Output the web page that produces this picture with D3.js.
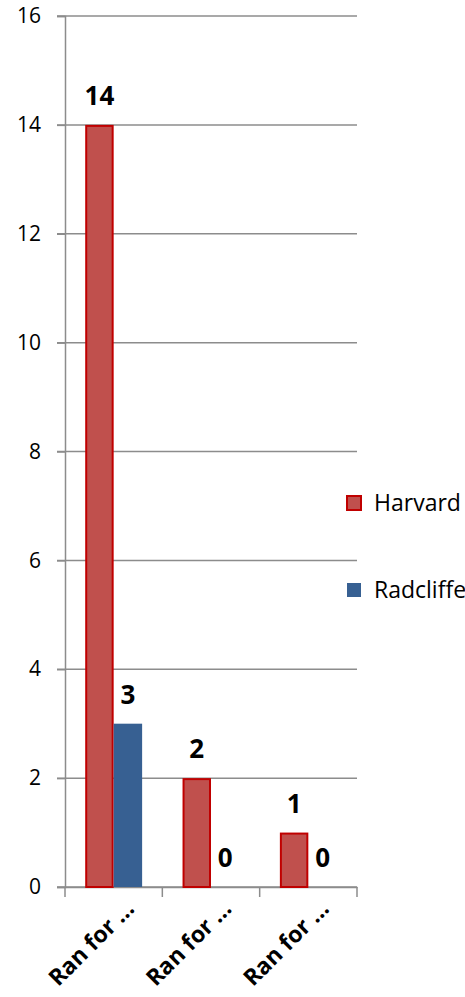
<!DOCTYPE html>
<html><head><meta charset="utf-8">
<script src="https://cdn.jsdelivr.net/npm/d3@7"></script>
<style>body{margin:0;background:#fff;overflow:hidden}svg{display:block}</style>
</head><body>
<script>
const categories = ["Ran for …", "Ran for …", "Ran for …"];
const seriesNames = ["Harvard", "Radcliffe"];
const harvard = [14, 2, 1];
const radcliffe = [3, 0, 0];
const yTicks = [0, 2, 4, 6, 8, 10, 12, 14, 16];

const W = 465, H = 997;
const fills = {Harvard: "#C0504D", Radcliffe: "#376092"};
const strokes = {Harvard: "#C00000", Radcliffe: "none"};
const font = "'Open Sans', 'Liberation Sans', sans-serif";

const svg = d3.select("body").append("svg").attr("width", W).attr("height", H);

const x = d3.scaleBand().domain(d3.range(categories.length)).range([65, 357]).paddingInner(0).paddingOuter(0);
const y = d3.scaleLinear().domain([0, 16]).range([887, 16]);
const xs = d3.scaleBand().domain(seriesNames).range([0, x.bandwidth()]).paddingInner(0).paddingOuter(0.71);

// gridlines
svg.append("g").selectAll("line").data(yTicks).join("line")
  .attr("x1", 57).attr("x2", 357).attr("y1", d => y(d)).attr("y2", d => y(d))
  .attr("stroke", "#8c8c8c").attr("stroke-width", 1.5);

// y axis
const yAxis = d3.axisLeft(y).tickValues(yTicks).tickSize(8).tickPadding(16);
const gy = svg.append("g").attr("transform", "translate(65,0)").call(yAxis);
gy.select(".domain").attr("stroke", "#8c8c8c").attr("stroke-width", 1.5);
gy.selectAll(".tick line").attr("stroke", "#8c8c8c").attr("stroke-width", 1.5);
gy.selectAll("text").attr("font-family", font).attr("font-size", 21).attr("fill", "#000");

// x axis
const xAxis = d3.axisBottom(x).tickFormat(i => categories[i]).tickSize(0);
const gx = svg.append("g").attr("transform", "translate(0,887)").call(xAxis);
gx.select(".domain").attr("stroke", "#8c8c8c").attr("stroke-width", 1.5);
gx.selectAll(".tick line").remove();
// boundary ticks
const bounds = d3.range(categories.length + 1).map(i => i < categories.length ? x(i) : x.range()[1]);
svg.append("g").selectAll("line").data(bounds).join("line")
  .attr("x1", d => d).attr("x2", d => d).attr("y1", 887).attr("y2", 897)
  .attr("stroke", "#8c8c8c").attr("stroke-width", 1.5);
gx.selectAll(".tick text")
  .attr("font-family", font).attr("font-size", 23).attr("font-weight", "bold").attr("fill", "#000")
  .attr("text-anchor", "end").attr("dy", 0).attr("y", 0)
  .attr("transform", "translate(22,23) rotate(-45)");

// bars
const data = [];
categories.forEach((c, i) => {
  data.push({i, s: "Harvard", v: harvard[i]});
  data.push({i, s: "Radcliffe", v: radcliffe[i]});
});
svg.append("g").selectAll("rect").data(data.filter(d => d.v > 0)).join("rect")
  .attr("x", d => x(d.i) + xs(d.s) + (d.s === "Harvard" ? 1 : 0))
  .attr("width", d => xs.bandwidth() - (d.s === "Harvard" ? 2 : 0))
  .attr("y", d => y(d.v) + (d.s === "Harvard" ? 1 : 0))
  .attr("height", d => y(0) - y(d.v) - (d.s === "Harvard" ? 1 : 0))
  .attr("fill", d => fills[d.s]).attr("stroke", d => strokes[d.s]).attr("stroke-width", 2);

// value labels
svg.append("g").selectAll("text").data(data).join("text")
  .attr("x", d => x(d.i) + xs(d.s) + xs.bandwidth() / 2)
  .attr("y", d => y(d.v) - 20)
  .attr("text-anchor", "middle")
  .attr("font-family", font).attr("font-size", 26).attr("font-weight", "bold").attr("fill", "#000")
  .text(d => d.v);

// legend
const lg = svg.append("g").selectAll("g").data(seriesNames).join("g")
  .attr("transform", (d, i) => `translate(346,${495 + i * 87})`);
lg.append("rect").attr("x", 1).attr("y", 1).attr("width", 14).attr("height", 14)
  .attr("fill", d => fills[d]).attr("stroke", d => strokes[d]).attr("stroke-width", 2);
lg.append("text").attr("x", 28).attr("y", 8).attr("dy", "0.36em")
  .attr("font-family", font).attr("font-size", 23).attr("fill", "#000").text(d => d);
</script>
</body></html>
